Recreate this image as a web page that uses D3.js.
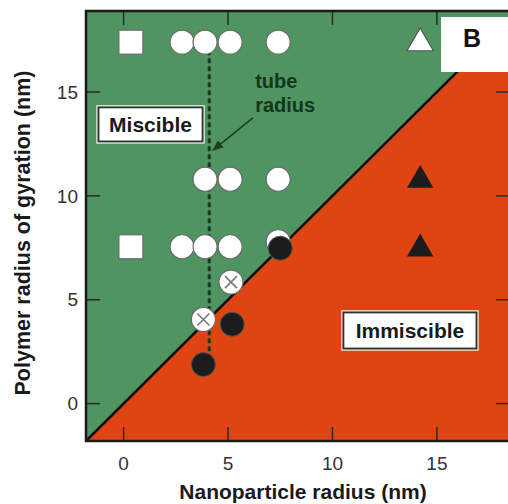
<!DOCTYPE html>
<html><head><meta charset="utf-8">
<script src="https://cdn.jsdelivr.net/npm/d3@7/dist/d3.min.js"></script>
<style>body{margin:0;background:#fff}svg{display:block}text{font-family:"Liberation Sans",Arial,sans-serif}</style>
</head><body>
<svg id="c" width="508" height="504"></svg>
<script>
// ---- data ----
const xTicks = [0, 5, 10, 15];
const yTicks = [0, 5, 10, 15];
const squares = [{x:0.35,y:17.4},{x:0.35,y:7.55}];
const openCircles = [
  {x:7.4,y:7.8},
  {x:2.8,y:17.4},{x:3.9,y:17.4},{x:5.1,y:17.4},{x:7.4,y:17.4},
  {x:3.9,y:10.8},{x:5.1,y:10.8},{x:7.4,y:10.8},
  {x:2.8,y:7.55},{x:3.9,y:7.55},{x:5.1,y:7.55}
];
const crossedCircles = [{x:5.14,y:5.85},{x:3.82,y:4.05}];
const filledCircles = [{x:7.5,y:7.48},{x:5.2,y:3.82},{x:3.82,y:1.88}];
const openTriangles = [{x:14.2,y:17.4}];
const filledTriangles = [{x:14.2,y:10.8},{x:14.2,y:7.5}];
const tubeRadius = 4.1;
const tubeRange = [1.9, 17.4];
const boundary = [-1.8, 18.5]; // y = x line

const svg = d3.select("#c");
const x = d3.scaleLinear().domain([-1.8, 18.5]).range([86, 510]);
const y = d3.scaleLinear().domain([-1.8, 18.9]).range([441, 11]);
const [x0,x1] = x.domain(), [y0,y1] = y.domain();

const green = "#4f9461", red = "#de4512";
svg.append("path").attr("fill", green)
  .attr("d", d3.line()([[x(x0),y(x0)],[x(x1),y(x1)],[x(x1),y(y1)],[x(x0),y(y1)]]));
svg.append("path").attr("fill", red)
  .attr("d", d3.line()([[x(x0),y(x0)],[x(x1),y(y0)],[x(x1),y(x1)]]));
svg.append("line").attr("x1",x(boundary[0])).attr("y1",y(boundary[0]))
  .attr("x2",x(boundary[1])).attr("y2",y(boundary[1]))
  .attr("stroke","#111").attr("stroke-width",2.5);

// ticks inward
const tickLen = 14, tc = "#2a2a2a";
xTicks.forEach(t => {
  svg.append("line").attr("x1",x(t)).attr("x2",x(t)).attr("y1",y(y0)).attr("y2",y(y0)-tickLen).attr("stroke",tc).attr("stroke-width",1.5);
  svg.append("line").attr("x1",x(t)).attr("x2",x(t)).attr("y1",y(y1)).attr("y2",y(y1)+tickLen).attr("stroke",tc).attr("stroke-width",1.5);
  svg.append("text").attr("x",x(t)).attr("y",470).attr("text-anchor","middle")
    .attr("font-size",19).attr("fill","#333").text(t);
});
yTicks.forEach(t => {
  svg.append("line").attr("x1",x(x0)).attr("x2",x(x0)+tickLen).attr("y1",y(t)).attr("y2",y(t)).attr("stroke",tc).attr("stroke-width",1.5);
  svg.append("line").attr("x1",x(x1)).attr("x2",x(x1)-tickLen).attr("y1",y(t)).attr("y2",y(t)).attr("stroke",tc).attr("stroke-width",1.5);
  svg.append("text").attr("x",78).attr("y",y(t)).attr("dy","0.35em").attr("text-anchor","end")
    .attr("font-size",19).attr("fill","#333").text(t);
});
// frame
svg.append("rect").attr("x",x(x0)).attr("y",y(y1)).attr("width",x(x1)-x(x0)).attr("height",y(y0)-y(y1))
  .attr("fill","none").attr("stroke","#1a1a1a").attr("stroke-width",2.5);

// tube radius dashed line
svg.append("line").attr("x1",x(tubeRadius)).attr("x2",x(tubeRadius))
  .attr("y1",y(tubeRange[1])).attr("y2",y(tubeRange[0]))
  .attr("stroke","#163a1f").attr("stroke-width",3).attr("stroke-dasharray","5,3");

// arrow
svg.append("defs").append("marker").attr("id","ah").attr("viewBox","0 0 10 10")
  .attr("refX",9).attr("refY",5).attr("markerWidth",7).attr("markerHeight",7).attr("orient","auto")
  .append("path").attr("d","M0,1L10,5L0,9Z").attr("fill","#17401f");
svg.append("line").attr("x1",x(6.19)).attr("y1",y(13.75)).attr("x2",x(4.28)).attr("y2",y(12.2))
  .attr("stroke","#17401f").attr("stroke-width",1.6).attr("marker-end","url(#ah)");
const tt = svg.append("text").attr("font-size",20).attr("font-weight","bold").attr("fill","#14361b");
tt.append("tspan").attr("x",x(6.3)).attr("y",y(15.2)).text("tube");
tt.append("tspan").attr("x",x(6.3)).attr("y",y(14.05)).text("radius");

// markers
const R = 12;
svg.selectAll(".sq").data(squares).join("rect")
  .attr("x",d=>x(d.x)-12).attr("y",d=>y(d.y)-12).attr("width",24).attr("height",24)
  .attr("fill","#fff").attr("stroke","#6a6a6a").attr("stroke-width",1.2);
svg.selectAll(".oc").data(openCircles).join("circle")
  .attr("cx",d=>x(d.x)).attr("cy",d=>y(d.y)).attr("r",R)
  .attr("fill","#fff").attr("stroke","#6a6a6a").attr("stroke-width",1.2);
svg.selectAll(".fc").data(filledCircles).join("circle")
  .attr("cx",d=>x(d.x)).attr("cy",d=>y(d.y)).attr("r",R)
  .attr("fill","#1c1c1c").attr("stroke","#555").attr("stroke-width",1);
const cc = svg.selectAll(".cc").data(crossedCircles).join("g")
  .attr("transform",d=>`translate(${x(d.x)},${y(d.y)})`);
cc.append("circle").attr("r",R).attr("fill","#fff").attr("stroke","#6a6a6a").attr("stroke-width",1.2);
cc.append("path").attr("d","M-6,-6L6,6M6,-6L-6,6").attr("stroke","#777").attr("stroke-width",1.6);
const tri = d3.symbol().type(d3.symbolTriangle).size(300);
svg.selectAll(".ot").data(openTriangles).join("path")
  .attr("d",tri).attr("transform",d=>`translate(${x(d.x)},${y(d.y)+1})`)
  .attr("fill","#fff").attr("stroke","#555").attr("stroke-width",1.2);
svg.selectAll(".ft").data(filledTriangles).join("path")
  .attr("d",tri).attr("transform",d=>`translate(${x(d.x)},${y(d.y)+1})`)
  .attr("fill","#1c1c1c");

// region labels
function box(cx, cy, w, h, label){
  const g = svg.append("g").attr("transform",`translate(${x(cx)},${y(cy)})`);
  g.append("rect").attr("x",-w/2-1.5).attr("y",-h/2-1.5).attr("width",w+3).attr("height",h+3)
    .attr("fill","none").attr("stroke","#e8f0e8").attr("stroke-width",1.5);
  g.append("rect").attr("x",-w/2).attr("y",-h/2).attr("width",w).attr("height",h)
    .attr("fill","#fff").attr("stroke","#333").attr("stroke-width",1.8);
  g.append("text").attr("text-anchor","middle").attr("dy","0.36em").attr("font-size",21)
    .attr("font-weight","bold").attr("fill","#1a1a1a").text(label);
}
box(1.29, 13.44, 104, 34, "Miscible");
box(13.71, 3.52, 133, 36, "Immiscible");

// panel letter
svg.append("rect").attr("x",441).attr("y",17).attr("width",70).attr("height",55).attr("fill","#fff");
svg.append("text").attr("x",472).attr("y",47).attr("text-anchor","middle").attr("font-size",25)
  .attr("font-weight","bold").attr("fill","#111").text("B");

// axis titles
svg.append("text").attr("x",303).attr("y",499).attr("text-anchor","middle").attr("font-size",21)
  .attr("font-weight","bold").attr("fill","#1a1a1a").text("Nanoparticle radius (nm)");
svg.append("text").attr("transform","translate(30,233) rotate(-90)").attr("text-anchor","middle")
  .attr("font-size",21.5).attr("font-weight","bold").attr("fill","#1a1a1a").text("Polymer radius of gyration (nm)");
</script>
</body></html>
